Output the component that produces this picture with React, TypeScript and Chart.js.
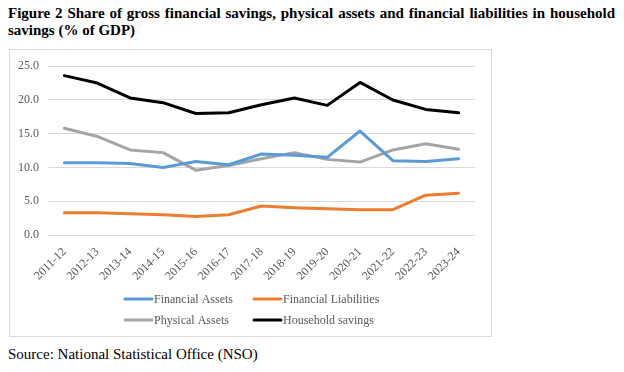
import React, { useEffect, useRef } from "react";
import { Chart, registerables } from "chart.js";

Chart.register(...registerables);

const years = [
  "2011-12", "2012-13", "2013-14", "2014-15", "2015-16", "2016-17", "2017-18",
  "2018-19", "2019-20", "2020-21", "2021-22", "2022-23", "2023-24",
];
const financialAssets = [10.7, 10.7, 10.6, 10.0, 10.9, 10.4, 12.0, 11.8, 11.5, 15.4, 11.0, 10.9, 11.3];
const financialLiabilities = [3.3, 3.3, 3.15, 3.0, 2.75, 3.0, 4.3, 4.05, 3.9, 3.75, 3.75, 5.9, 6.2];
const physicalAssets = [15.8, 14.6, 12.6, 12.2, 9.6, 10.3, 11.3, 12.2, 11.2, 10.8, 12.6, 13.5, 12.7];
const householdSavings = [23.6, 22.5, 20.3, 19.6, 18.0, 18.1, 19.3, 20.3, 19.2, 22.6, 20.0, 18.6, 18.1];

const seriesLabels = ["Financial Assets", "Financial Liabilities", "Physical Assets", "Household savings"];
const seriesColors = ["#5B9BD5", "#ED7D31", "#A5A5A5", "#000000"];

const SERIF = "'Liberation Serif', 'Times New Roman', serif";

const legendPlugin = {
  id: "gridLegend",
  afterDraw(chart: any) {
    const ctx = chart.ctx;
    const cols = [115, 244];
    const rows = [249, 270];
    ctx.save();
    ctx.font = `12px ${SERIF}`;
    ctx.textBaseline = "middle";
    ctx.textAlign = "left";
    chart.data.datasets.forEach((ds: any, i: number) => {
      const x = cols[i % 2];
      const y = rows[Math.floor(i / 2)];
      ctx.strokeStyle = ds.borderColor;
      ctx.lineWidth = 3;
      ctx.lineCap = "round";
      ctx.beginPath();
      ctx.moveTo(x, y);
      ctx.lineTo(x + 27, y);
      ctx.stroke();
      ctx.fillStyle = "#595959";
      ctx.fillText(ds.label, x + 29, y + 0.5);
    });
    ctx.restore();
  },
};

function ChartBox() {
  const ref = useRef<HTMLCanvasElement>(null);
  useEffect(() => {
    if (!ref.current) return;
    const values = [financialAssets, financialLiabilities, physicalAssets, householdSavings];
    const chart = new Chart(ref.current, {
      type: "line",
      data: {
        labels: years,
        datasets: values.map((v, i) => ({
          label: seriesLabels[i],
          data: v,
          borderColor: seriesColors[i],
          backgroundColor: seriesColors[i],
          borderWidth: 3,
          pointRadius: 0,
          tension: 0,
          borderJoinStyle: "round" as const,
          borderCapStyle: "round" as const,
        })),
      },
      options: {
        animation: false,
        responsive: false,
        maintainAspectRatio: false,
        layout: { padding: { top: 13, right: 16, left: 0, bottom: 51 } },
        plugins: {
          legend: { display: false },
          tooltip: { enabled: false },
        },
        scales: {
          x: {
            offset: true,
            grid: { display: false },
            border: { display: false },
            ticks: {
              minRotation: 45,
              maxRotation: 45,
              color: "#595959",
              font: { family: SERIF, size: 12 },
              padding: 2,
              autoSkip: false,
            },
            afterFit(scale: any) {
              scale.height = 50;
            },
          },
          y: {
            min: 0,
            max: 25,
            ticks: {
              stepSize: 5,
              color: "#595959",
              font: { family: SERIF, size: 12 },
              padding: 9,
              callback: (v: any) => Number(v).toFixed(1),
            },
            grid: { color: "#D9D9D9", lineWidth: 1, drawTicks: false },
            border: { display: false },
            afterFit(scale: any) {
              scale.width = 38;
            },
          },
        },
      },
      plugins: [legendPlugin],
    });
    return () => chart.destroy();
  }, []);
  return <canvas ref={ref} width={481} height={286} style={{ display: "block" }} />;
}

export default function App() {
  return (
    <div style={{ position: "relative", width: 608, height: 356, fontFamily: SERIF }}>
      <div
        style={{
          position: "absolute",
          left: 0,
          top: -3,
          width: 607,
          fontWeight: "bold",
          fontSize: 15,
          lineHeight: "17px",
          textAlign: "justify",
          color: "#000",
        }}
      >
        Figure 2 Share of gross financial savings, physical assets and financial liabilities in household savings (% of GDP)
      </div>
      <div
        style={{
          position: "absolute",
          left: 1,
          top: 41,
          width: 481,
          height: 286,
          border: "1px solid #D9D9D9",
        }}
      >
        <ChartBox />
      </div>
      <div
        style={{
          position: "absolute",
          left: 0,
          top: 338,
          fontSize: 15,
          color: "#000",
          whiteSpace: "nowrap",
        }}
      >
        Source: National Statistical Office (NSO)
      </div>
    </div>
  );
}
